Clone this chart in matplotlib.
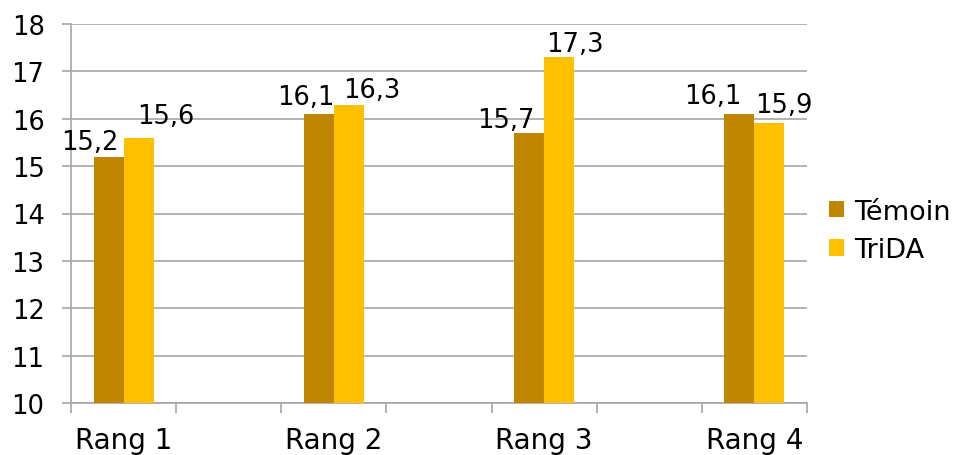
import matplotlib
matplotlib.use("Agg")
import matplotlib.pyplot as plt
import numpy as np

categories = ["Rang 1", "", "Rang 2", "", "Rang 3", "", "Rang 4"]
temoin = [15.2, None, 16.1, None, 15.7, None, 16.1]
trida = [15.6, None, 16.3, None, 17.3, None, 15.9]
series_names = ["Témoin", "TriDA"]
temoin_labels = ["15,2", "", "16,1", "", "15,7", "", "16,1"]
trida_labels = ["15,6", "", "16,3", "", "17,3", "", "15,9"]

# style: label offsets in pixels (dx, dy)
temoin_off = [(-19, 8), None, (-13, 10), None, (-23, 6), None, (-27, 11)]
trida_off = [(27, 15), None, (23, 8), None, (16, 6), None, (14, 11)]

c_temoin = "#C08600"
c_trida = "#FFC000"
grid_c = "#A6A6A6"

plt.rcParams['font.family'] = ['DejaVu Sans']

fig = plt.figure(figsize=(9.56, 4.56), dpi=100)
W, H = 956, 456
ax = fig.add_axes([71 / W, 1 - 404 / H, (807 - 71) / W, (404 - 25) / H])

x = np.arange(len(categories))
bw = 30 / 105.0
idx = [i for i, v in enumerate(temoin) if v is not None]
xt = np.array([x[i] for i in idx])
vt = np.array([temoin[i] for i in idx])
vd = np.array([trida[i] for i in idx])

b1 = ax.bar(xt - bw / 2, vt - 10, bw, bottom=10, color=c_temoin, label=series_names[0], zorder=3)
b2 = ax.bar(xt + bw / 2, vd - 10, bw, bottom=10, color=c_trida, label=series_names[1], zorder=3)

for k, i in enumerate(idx):
    dx, dy = temoin_off[i]
    ax.annotate(temoin_labels[i], (xt[k] - bw / 2, temoin[i]), xytext=(dx, dy),
                textcoords="offset pixels", ha="center", va="baseline", fontsize=18.5, color="black", zorder=4)
    dx, dy = trida_off[i]
    ax.annotate(trida_labels[i], (xt[k] + bw / 2, trida[i]), xytext=(dx, dy),
                textcoords="offset pixels", ha="center", va="baseline", fontsize=18.5, color="black", zorder=4)

ax.set_xlim(-0.5, len(categories) - 0.5)
ax.set_ylim(10, 18)
ax.set_yticks(np.arange(10, 19, 1))
ax.set_yticklabels([str(v) for v in range(10, 19)])
ax.yaxis.grid(True, color=grid_c, linewidth=1.2, zorder=0)
ax.set_axisbelow(True)

ax.set_xticks([i for i in range(len(categories)) if categories[i]])
ax.set_xticklabels([c for c in categories if c], fontsize=20)
ax.set_xticks(np.arange(-0.5, len(categories), 1), minor=True)
ax.tick_params(axis="x", which="major", length=0, pad=16.5)
ax.tick_params(axis="x", which="minor", length=7, width=1.2, color=grid_c, direction="out")
ax.tick_params(axis="y", length=6.5, width=1.2, color=grid_c, labelsize=18.5, pad=12.5)

for s in ["top", "right"]:
    ax.spines[s].set_visible(False)
for s in ["left", "bottom"]:
    ax.spines[s].set_color(grid_c)
    ax.spines[s].set_linewidth(1.2)

fig.legend(handles=[b1, b2], labels=series_names, loc="center left",
           bbox_to_anchor=(829 / W, 1 - 232 / H), frameon=False, fontsize=19.5,
           handlelength=0.55, handleheight=0.55, handletextpad=0.38,
           labelspacing=0.45, borderpad=0, borderaxespad=0)

fig.savefig("out.png", dpi=100, facecolor="white")
